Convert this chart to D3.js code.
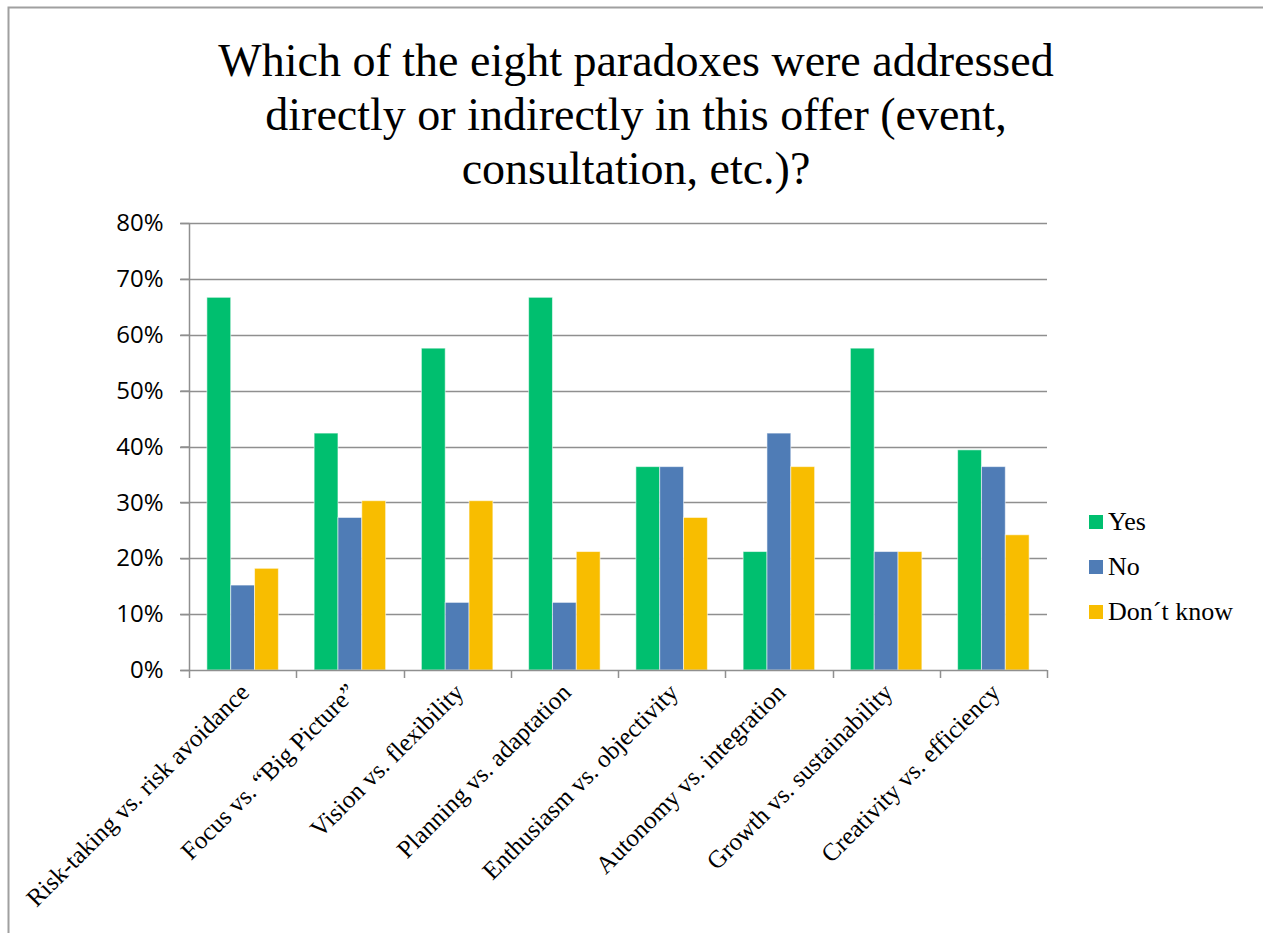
<!DOCTYPE html>
<html>
<head>
<meta charset="utf-8">
<script src="https://cdn.jsdelivr.net/npm/d3@7"></script>
<style>
  html, body { margin: 0; padding: 0; background: #fff; }
  svg { display: block; }
</style>
</head>
<body>
<svg id="chart" width="1263" height="933"></svg>
<script>
// Survey answers per paradox (share of respondents)
const categories = [
  "Risk-taking vs. risk avoidance",
  "Focus vs. \u201cBig Picture\u201d",
  "Vision vs. flexibility",
  "Planning vs. adaptation",
  "Enthusiasm vs. objectivity",
  "Autonomy vs. integration",
  "Growth vs. sustainability",
  "Creativity vs. efficiency"
];
const seriesNames = ["Yes", "No", "Don\u00b4t know"];
const yesValues     = [0.667, 0.424, 0.576, 0.667, 0.364, 0.212, 0.576, 0.394];
const noValues      = [0.152, 0.273, 0.121, 0.121, 0.364, 0.424, 0.212, 0.364];
const dontKnowValues = [0.182, 0.303, 0.303, 0.212, 0.273, 0.364, 0.212, 0.242];
const yTicks = [0, 0.1, 0.2, 0.3, 0.4, 0.5, 0.6, 0.7, 0.8];
const titleLines = [
  "Which of the eight paradoxes were addressed",
  "directly or indirectly in this offer (event,",
  "consultation, etc.)?"
];

const seriesValues = [yesValues, noValues, dontKnowValues];
const colors = ["#00bf6f", "#4f7cb6", "#f8bd00"];

const svg = d3.select("#chart");
const serif = "'Liberation Serif', 'DejaVu Serif', serif";
const sans = "'Open Sans', 'Liberation Sans', sans-serif";

// Slide frame
svg.append("path")
  .attr("d", "M8.5,933 L8.5,7.5 L1263,7.5")
  .attr("fill", "none")
  .attr("stroke", "#a0a0a0")
  .attr("stroke-width", 2);

// Title
svg.append("g").selectAll("text")
  .data(titleLines)
  .join("text")
  .attr("x", 636)
  .attr("y", (d, i) => 76 + i * 54)
  .attr("text-anchor", "middle")
  .attr("font-family", serif)
  .attr("font-size", 46)
  .attr("fill", "#000")
  .text(d => d);

// Plot area
const plotLeft = 189, plotRight = 1047, plotTop = 223, plotBottom = 670;

const x0 = d3.scaleBand()
  .domain(categories)
  .range([plotLeft, plotRight])
  .paddingInner(1 / 3)
  .paddingOuter(1 / 6);

const x1 = d3.scaleBand()
  .domain(d3.range(seriesNames.length))
  .range([0, x0.bandwidth()]);

const y = d3.scaleLinear().domain([0, 0.8]).range([plotBottom, plotTop]);

// Horizontal gridlines
svg.append("g").selectAll("line")
  .data(yTicks.filter(t => t > 0))
  .join("line")
  .attr("x1", plotLeft - 9)
  .attr("x2", plotRight)
  .attr("y1", d => Math.round(y(d)) + 0.5)
  .attr("y2", d => Math.round(y(d)) + 0.5)
  .attr("stroke", "#8f8f8f")
  .attr("stroke-width", 1.5);

// Y axis with percentage labels
const yAxis = d3.axisLeft(y)
  .tickValues(yTicks)
  .tickFormat(d3.format(".0%"))
  .tickSize(9)
  .tickPadding(17);

const yg = svg.append("g")
  .attr("transform", `translate(${plotLeft + 0.5},0)`)
  .call(yAxis);
yg.select(".domain").attr("stroke", "#8f8f8f").attr("stroke-width", 1.5)
  .attr("d", `M0,${plotTop}V${plotBottom}`);
yg.selectAll(".tick line").attr("stroke", "#8f8f8f").attr("stroke-width", 1.5);
yg.selectAll(".tick text")
  .attr("font-family", sans)
  .attr("font-size", 24)
  .attr("fill", "#000");

// Bars
const groups = svg.append("g").selectAll("g")
  .data(categories)
  .join("g")
  .attr("transform", d => `translate(${x0(d)},0)`);

groups.selectAll("rect")
  .data((d, i) => seriesValues.map((vals, s) => ({ s, v: vals[i] })))
  .join("rect")
  .attr("x", d => x1(d.s))
  .attr("width", x1.bandwidth())
  .attr("y", d => y(d.v))
  .attr("height", d => plotBottom - y(d.v))
  .attr("fill", d => colors[d.s])
  .attr("stroke", "rgba(255,255,255,0.55)")
  .attr("stroke-width", 1);

// X axis baseline with boundary ticks
const boundaries = d3.range(categories.length + 1).map(i => plotLeft + i * x0.step());
svg.append("line")
  .attr("x1", plotLeft - 9).attr("x2", plotRight)
  .attr("y1", plotBottom + 0.5).attr("y2", plotBottom + 0.5)
  .attr("stroke", "#8f8f8f").attr("stroke-width", 1.5);
svg.append("g").selectAll("line")
  .data(boundaries)
  .join("line")
  .attr("x1", d => Math.round(d) + 0.5)
  .attr("x2", d => Math.round(d) + 0.5)
  .attr("y1", plotBottom)
  .attr("y2", plotBottom + 8)
  .attr("stroke", "#8f8f8f")
  .attr("stroke-width", 1.5);

// Category labels, rotated
svg.append("g").selectAll("text")
  .data(categories)
  .join("text")
  .attr("transform", d => `translate(${x0(d) + x0.bandwidth() / 2 + 8},${plotBottom + 24}) rotate(-45)`)
  .attr("text-anchor", "end")
  .attr("font-family", serif)
  .attr("font-size", 25)
  .attr("fill", "#000")
  .text(d => d);

// Legend
const legend = svg.append("g").selectAll("g")
  .data(seriesNames)
  .join("g")
  .attr("transform", (d, i) => `translate(1089,${522 + i * 45})`);
legend.append("rect")
  .attr("x", 0).attr("y", -7)
  .attr("width", 14).attr("height", 14)
  .attr("fill", (d, i) => colors[i]);
legend.append("text")
  .attr("x", 19).attr("y", 8)
  .attr("font-family", serif)
  .attr("font-size", 26)
  .attr("fill", "#000")
  .text(d => d);
</script>
</body>
</html>
